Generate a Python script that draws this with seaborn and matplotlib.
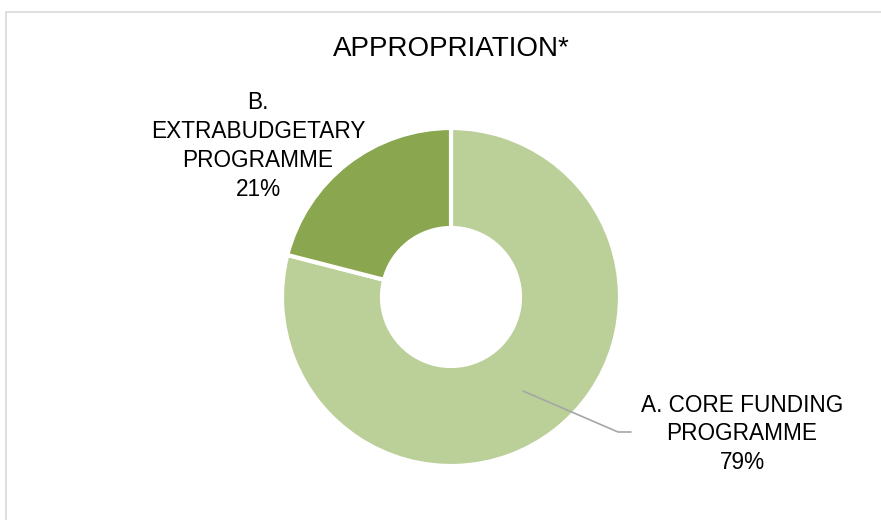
import matplotlib
matplotlib.use("Agg")
import matplotlib.pyplot as plt
from matplotlib.patches import Rectangle
import seaborn as sns

# Budget split
categories = ["A. CORE FUNDING\nPROGRAMME", "B.\nEXTRABUDGETARY\nPROGRAMME"]
shares = [79, 21]
colors = ["#BBCF98", "#8AA74F"]
title = "APPROPRIATION*"

sns.set_theme(style="white")
plt.rcParams["font.family"] = ["Liberation Sans", "DejaVu Sans"]

W, H = 881, 520
fig = plt.figure(figsize=(W / 100, H / 100), dpi=100)

# chart frame
fig.patches.append(Rectangle((5.5 / W, -0.1), 1.2, 1 - 11.5 / H + 0.1,
                             transform=fig.transFigure, fill=False,
                             edgecolor="#D9D9D9", linewidth=1.2))

cx, cy, r = 451, 297, 169
ax = fig.add_axes([(cx - r) / W, (H - cy - r) / H, 2 * r / W, 2 * r / H])

ax.pie(shares, colors=colors, startangle=90, counterclock=False, radius=1,
       wedgeprops=dict(width=1 - 69 / 169, edgecolor="white", linewidth=3))
ax.set_xlim(-1, 1)
ax.set_ylim(-1, 1)
ax.set_aspect("equal")
ax.axis("off")

def px(x, y):
    return (x - cx) / r, (cy - y) / r

fig.text(451 / W, 1 - 49 / H, title, ha="center", va="center",
         fontsize=20, color="#000000")

labels = [f"{c}\n{s}%" for c, s in zip(categories, shares)]

bx, by = px(258, 146)
ax.text(bx, by, labels[1], ha="center", va="center", fontsize=16.3,
        linespacing=1.32, color="#000000", clip_on=False)

axx, axy = px(742, 434)
ax.text(axx, axy, labels[0], ha="center", va="center", fontsize=16.3,
        linespacing=1.32, color="#000000", clip_on=False)

p0, p1, p2 = px(523, 391), px(618, 432), px(631, 432)
ax.plot([p0[0], p1[0], p2[0]], [p0[1], p1[1], p2[1]], color="#A6A6A6",
        linewidth=1.2, clip_on=False)

fig.savefig("out.png", dpi=100, facecolor="white")
